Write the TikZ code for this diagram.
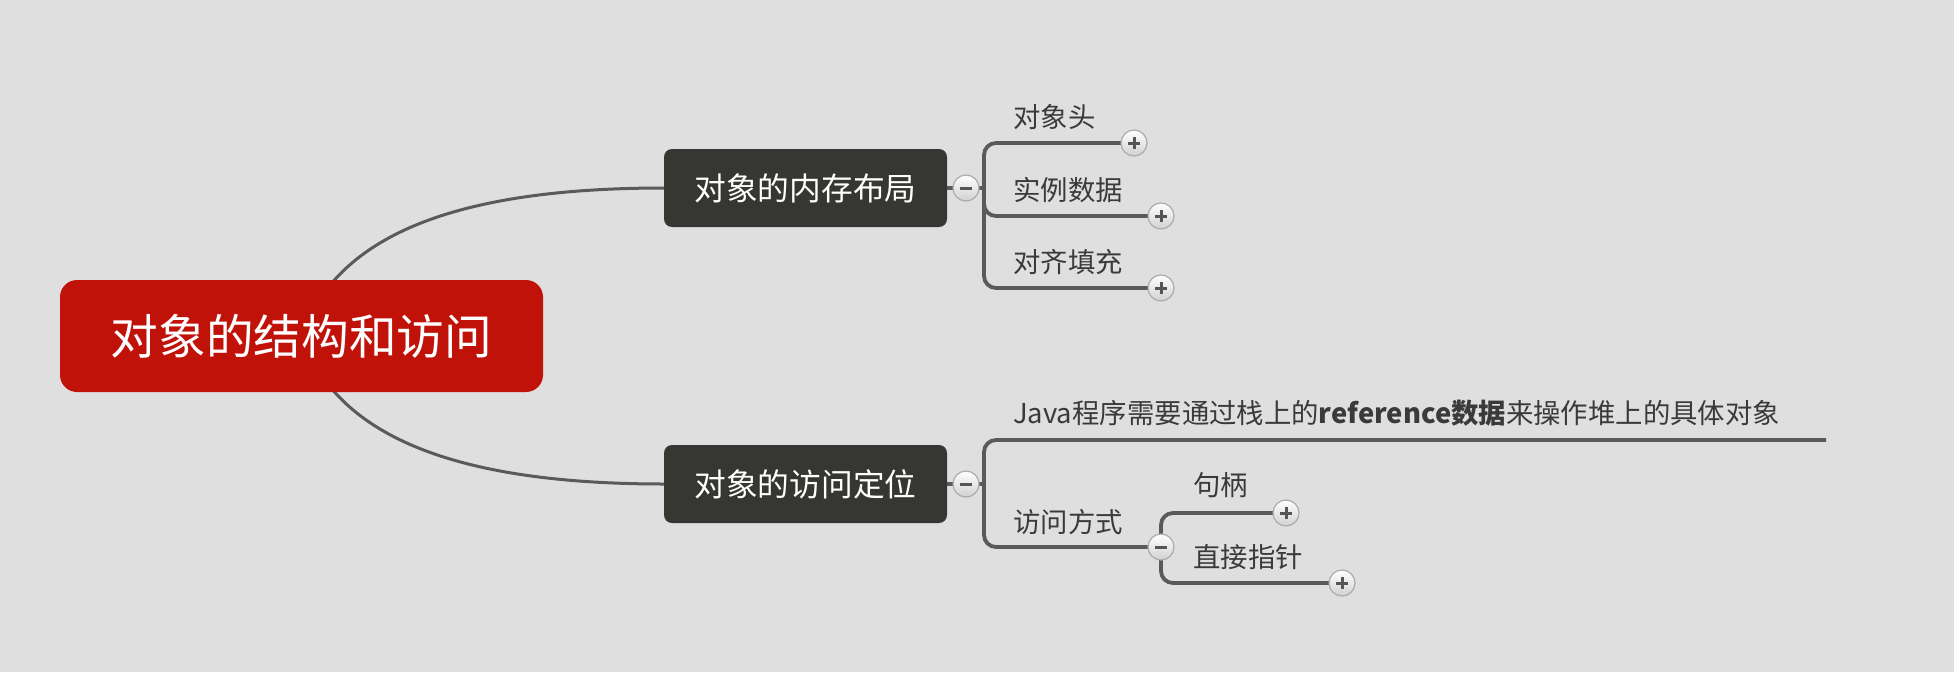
\documentclass[tikz,border=0pt]{standalone}
\usepackage{fontspec}
\setmainfont{Noto Sans CJK SC}
\usetikzlibrary{shadings}
\pgfdeclarelayer{back}
\pgfsetlayers{back,main}
\definecolor{bgc}{HTML}{DFDFDF}
\definecolor{rootred}{HTML}{C1120A}
\definecolor{boxdark}{HTML}{363632}
\definecolor{linec}{HTML}{5A5A5A}
\definecolor{txt}{HTML}{3A3A3A}
\definecolor{btnline}{HTML}{ABABAB}
\definecolor{btnsym}{HTML}{555555}
\tikzset{
 rootbox/.style={fill=rootred, rounded corners=17pt, minimum width=483pt, minimum height=112pt, text=white, font=\fontsize{47.7}{50}\selectfont, inner sep=0pt},
 topicbox/.style={fill=boxdark, rounded corners=8pt, minimum width=283pt, minimum height=78pt, text=white, font=\fontsize{31.7}{34}\selectfont, inner sep=0pt},
 leaf/.style={anchor=west, text=txt, font=\fontsize{27.4}{30}\selectfont, inner sep=0pt},
 curve/.style={draw=linec, line width=3pt},
 branch/.style={draw=linec, line width=3.8pt, rounded corners=12pt},
 btn/.style={circle, minimum size=26pt, inner sep=0pt, draw=btnline, line width=1.2pt, top color=white, bottom color=black!18},
 plusbtn/.style={btn, path picture={
   \draw[btnsym, line width=3pt] ([xshift=-6pt]path picture bounding box.center) -- ([xshift=6pt]path picture bounding box.center);
   \draw[btnsym, line width=3pt] ([yshift=-6pt]path picture bounding box.center) -- ([yshift=6pt]path picture bounding box.center);}},
 minusbtn/.style={btn, path picture={
   \draw[btnsym, line width=3pt] ([xshift=-6pt]path picture bounding box.center) -- ([xshift=6pt]path picture bounding box.center);}},
}
\begin{document}
\begin{tikzpicture}[x=1pt, y=-1pt]
\begin{pgfonlayer}{back}
\fill[bgc] (0,0) rectangle (1954,672);
\end{pgfonlayer}
\useasboundingbox (0,0) rectangle (1954,672);

% main nodes
\node[rootbox] (root) at (301.5,336) {对象的结构和访问};
\node[topicbox] (mem) at (805.5,188) {对象的内存布局};
\node[topicbox] (acc) at (805.5,484) {对象的访问定位};

% collapse / expand buttons
\node[minusbtn] (c1) at (966,188) {};
\node[minusbtn] (c2) at (966,484) {};
\node[minusbtn] (c3) at (1161,547) {};
\node[plusbtn] (p1) at (1134,143) {};
\node[plusbtn] (p2) at (1161,216) {};
\node[plusbtn] (p3) at (1161,288) {};
\node[plusbtn] (p4) at (1286,513) {};
\node[plusbtn] (p5) at (1342,583) {};

% junctions
\coordinate (j1) at (984,188);
\coordinate (j2) at (984,484);
\coordinate (jend) at (1826,440);

% labels
\node[leaf] (l1) at (1013,117) {对象头};
\node[leaf] (l2) at (1013,190) {实例数据};
\node[leaf] (l3) at (1013,262) {对齐填充};
\node[leaf] (l4) at (1013,413) {Java程序需要通过栈上的{\bfseries reference数据}来操作堆上的具体对象};
\node[leaf] (l5) at (1013,522) {访问方式};
\node[leaf] (l6) at (1193,485) {句柄};
\node[leaf] (l7) at (1193,557) {直接指针};

\begin{pgfonlayer}{back}
\draw[curve] (root.center) .. controls (336,238) and (450,188) .. (mem.west);
\draw[curve] (root.center) .. controls (336,434) and (450,484) .. (acc.west);
\draw[branch] (mem.east) -- (c1.center) -- (j1);
\draw[branch] (p1.center) -| (j1) |- (p3.center);
\draw[branch] (j1) |- (p2.center);
\draw[branch] (acc.east) -- (c2.center) -- (j2);
\draw[branch] (jend) -| (j2) |- (c3.center);
\draw[branch] (p4.center) -| (c3.center) |- (p5.center);
\end{pgfonlayer}
\end{tikzpicture}
\end{document}
